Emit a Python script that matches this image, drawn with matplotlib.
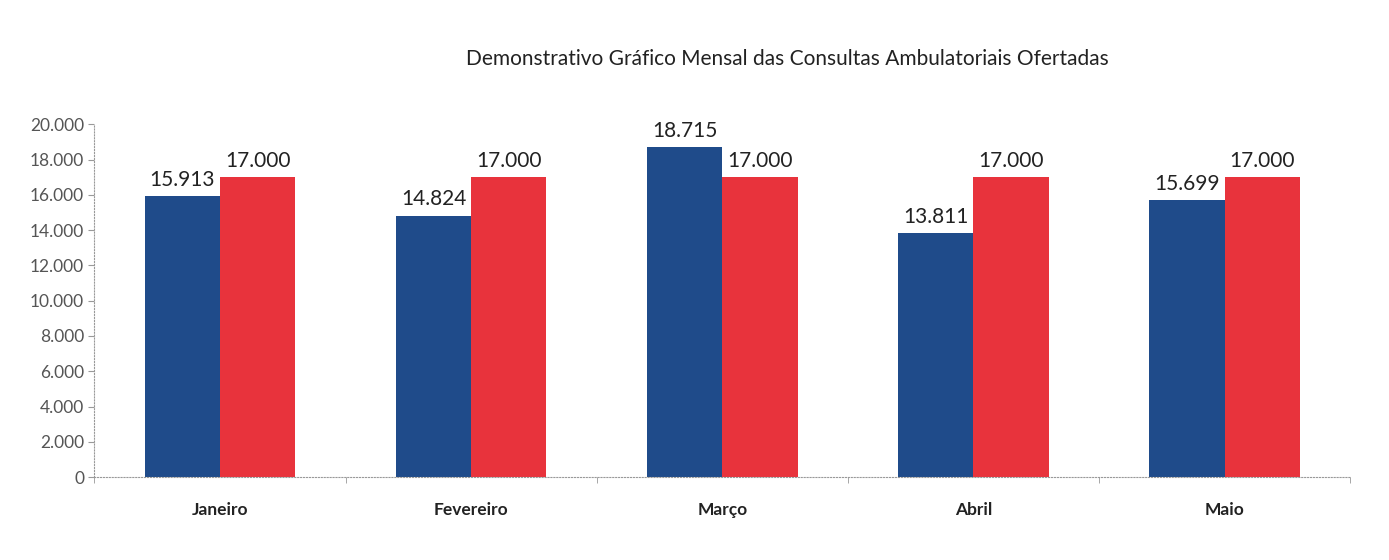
import matplotlib.pyplot as plt
import numpy as np

meses = ['Janeiro', 'Fevereiro', 'Março', 'Abril', 'Maio']
realizadas = [15913, 14824, 18715, 13811, 15699]
ofertadas = [17000, 17000, 17000, 17000, 17000]

plt.rcParams['font.family'] = ['Lato', 'DejaVu Sans']

fig = plt.figure(figsize=(13.89, 5.6), dpi=100)
ax = fig.add_axes([0.068, 0.148, 0.904, 0.63])

x = np.arange(len(meses))
w = 0.3
b1 = ax.bar(x - w / 2, realizadas, w, color='#1f4b8a')
b2 = ax.bar(x + w / 2, ofertadas, w, color='#e8333c')

# rótulos de valor acima das barras
for barras in (b1, b2):
    for b in barras:
        v = b.get_height()
        ax.text(b.get_x() + b.get_width() / 2, v + 350, f'{v:,}'.replace(',', '.'),
                ha='center', va='bottom', fontsize=15, color='#222222')

ax.set_xlim(-0.5, len(meses) - 0.5)
ax.set_ylim(0, 20000)
ax.set_yticks(range(0, 20001, 2000))
ax.set_yticklabels([f'{v:,}'.replace(',', '.') for v in range(0, 20001, 2000)],
                   fontsize=12.5, color='#555555')
ax.set_xticks(x)
ax.set_xticklabels(meses, fontsize=12.5, fontweight='bold', color='#222222')
ax.tick_params(axis='x', length=0, pad=18)
ax.tick_params(axis='y', length=4, color='#999999')
ax.set_xticks(np.arange(-0.5, len(meses)), minor=True)
ax.tick_params(axis='x', which='minor', length=4, color='#999999')

for s in ['top', 'right']:
    ax.spines[s].set_visible(False)
for s in ['left', 'bottom']:
    ax.spines[s].set_color('#999999')
    ax.spines[s].set_linestyle(':')

fig.text(0.567, 0.895, 'Demonstrativo Gráfico Mensal das Consultas Ambulatoriais Ofertadas',
         ha='center', va='center', fontsize=15, color='#222222')

fig.savefig('out.png', dpi=100)
